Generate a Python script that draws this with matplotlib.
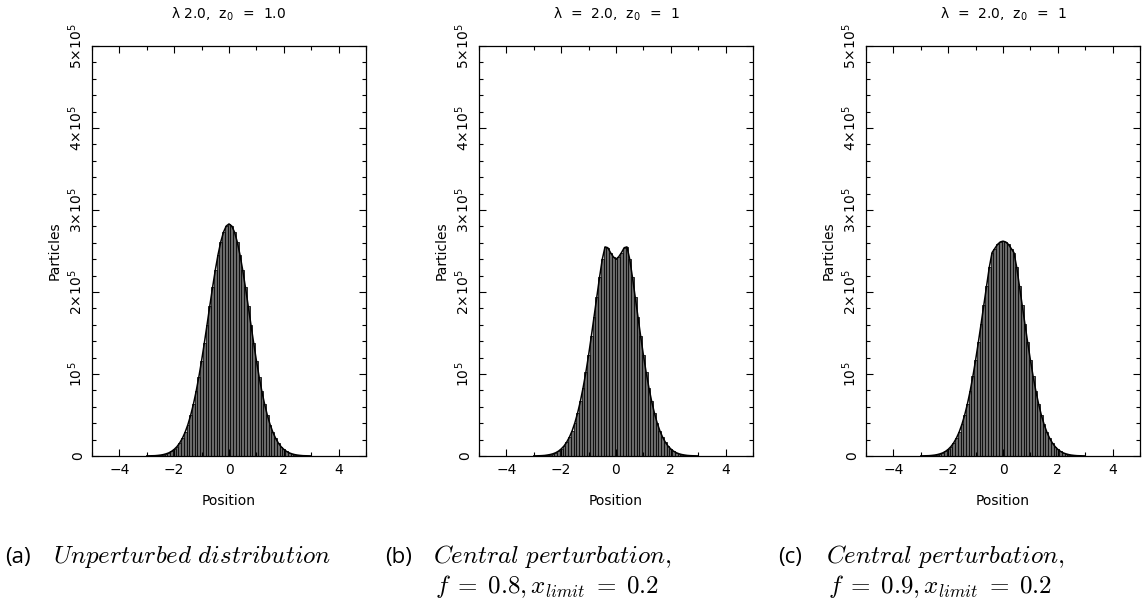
import matplotlib
matplotlib.use("Agg")
import matplotlib.pyplot as plt
from matplotlib.ticker import MultipleLocator, FixedLocator
import numpy as np

plt.rcParams["mathtext.fontset"] = "cm"
plt.rcParams["font.family"] = "DejaVu Sans"

# histogram bins (width 0.1), counts in units of 1e5 particles
bin_centers = np.linspace(-3.0, 3.0, 61)

counts_a = [0.001, 0.002, 0.003, 0.004, 0.007, 0.011, 0.017, 0.026, 0.038, 0.056,
            0.081, 0.114, 0.159, 0.217, 0.291, 0.383, 0.496, 0.630, 0.787, 0.965,
            1.163, 1.378, 1.602, 1.831, 2.055, 2.266, 2.455, 2.612, 2.731, 2.805,
            2.830,
            2.805, 2.731, 2.612, 2.455, 2.266, 2.055, 1.831, 1.602, 1.378, 1.163,
            0.965, 0.787, 0.630, 0.496, 0.383, 0.291, 0.217, 0.159, 0.114, 0.081,
            0.056, 0.038, 0.026, 0.017, 0.011, 0.007, 0.004, 0.003, 0.002, 0.001]

counts_b = [0.001, 0.002, 0.003, 0.0045, 0.007, 0.012, 0.018, 0.027, 0.040, 0.059,
            0.086, 0.121, 0.169, 0.230, 0.308, 0.406, 0.526, 0.668, 0.834, 1.02,
            1.23, 1.46, 1.70, 1.94, 2.18, 2.40, 2.55, 2.54, 2.48, 2.43,
            2.40,
            2.43, 2.48, 2.54, 2.55, 2.40, 2.18, 1.94, 1.70, 1.46, 1.23,
            1.02, 0.834, 0.668, 0.526, 0.406, 0.308, 0.230, 0.169, 0.121, 0.086,
            0.059, 0.040, 0.027, 0.018, 0.012, 0.007, 0.0045, 0.003, 0.002, 0.001]

counts_c = [0.001, 0.002, 0.003, 0.004, 0.007, 0.011, 0.017, 0.026, 0.038, 0.056,
            0.081, 0.115, 0.160, 0.218, 0.292, 0.385, 0.498, 0.633, 0.79, 0.97,
            1.17, 1.385, 1.61, 1.84, 2.07, 2.30, 2.48, 2.53, 2.58, 2.61,
            2.62,
            2.61, 2.58, 2.53, 2.48, 2.30, 2.07, 1.84, 1.61, 1.385, 1.17,
            0.97, 0.79, 0.633, 0.498, 0.385, 0.292, 0.218, 0.160, 0.115, 0.081,
            0.056, 0.038, 0.026, 0.017, 0.011, 0.007, 0.004, 0.003, 0.002, 0.001]

titles = [r"$\mathregular{\lambda}$ 2.0,  z$_{\mathregular{0}}$  =  1.0",
          r"$\mathregular{\lambda}$  =  2.0,  z$_{\mathregular{0}}$  =  1",
          r"$\mathregular{\lambda}$  =  2.0,  z$_{\mathregular{0}}$  =  1"]
ytick_vals = [0, 1e5, 2e5, 3e5, 4e5, 5e5]
ytick_labels = ["0", r"10$^{\mathregular{5}}$", r"2×10$^{\mathregular{5}}$",
                r"3×10$^{\mathregular{5}}$", r"4×10$^{\mathregular{5}}$",
                r"5×10$^{\mathregular{5}}$"]
xtick_vals = [-4, -2, 0, 2, 4]
xtick_labels = ["\u22124", "\u22122", "0", "2", "4"]

cap_tags = ["(a)", "(b)", "(c)"]
cap_line1 = [r"$\mathit{Unperturbed\ distribution}$",
             r"$\mathit{Central\ perturbation,}$",
             r"$\mathit{Central\ perturbation,}$"]
cap_line2 = ["", r"$f\;=\;\mathit{0.8}, x_{limit}\;=\;\mathit{0.2}$",
             r"$f\;=\;\mathit{0.9}, x_{limit}\;=\;\mathit{0.2}$"]

W, H = 1142, 604
fig = plt.figure(figsize=(W / 100, H / 100), dpi=100)
fig.patch.set_facecolor("white")

lefts = [92, 479, 866]
ax_w, ax_top, ax_bot = 274, 46, 456
tag_x = [5, 385, 778]

for i, counts in enumerate([counts_a, counts_b, counts_c]):
    ax = fig.add_axes([lefts[i] / W, (H - ax_bot) / H, ax_w / W, (ax_bot - ax_top) / H])
    vals = np.array(counts) * 1e5
    ax.bar(bin_centers, vals, width=0.1, color="#6a6a6a", edgecolor="black", linewidth=0.55)
    ax.plot(bin_centers, vals, color="black", linewidth=1.1)
    ax.set_xlim(-5, 5)
    ax.set_ylim(0, 5e5)
    ax.xaxis.set_major_locator(FixedLocator(xtick_vals))
    ax.set_xticklabels(xtick_labels)
    ax.xaxis.set_minor_locator(MultipleLocator(1))
    ax.yaxis.set_major_locator(FixedLocator(ytick_vals))
    ax.set_yticklabels(ytick_labels, rotation=90, va="center")
    ax.yaxis.set_minor_locator(MultipleLocator(2e4))
    ax.tick_params(which="both", direction="in", top=True, right=True, width=0.8, labelsize=10)
    ax.tick_params(which="major", length=5)
    ax.tick_params(which="minor", length=2.7)
    ax.tick_params(axis="y", pad=5)
    ax.tick_params(axis="x", pad=5)
    for s in ax.spines.values():
        s.set_linewidth(0.9)
    ax.set_xlabel("Position", fontsize=10, labelpad=12)
    ax.text(-37 / ax_w, 0.5, "Particles", rotation=90, ha="center", va="center",
            fontsize=10, transform=ax.transAxes)
    ax.text(0.5, 1 + 32 / 410, titles[i], ha="center", va="center", fontsize=10,
            transform=ax.transAxes)

    fig.text(tag_x[i] / W, (H - 563) / H, cap_tags[i], fontsize=16, family="Open Sans",
             va="baseline", ha="left")
    fig.text((tag_x[i] + 48) / W, (H - 563) / H, cap_line1[i], fontsize=18,
             va="baseline", ha="left")
    if cap_line2[i]:
        fig.text((tag_x[i] + 50) / W, (H - 593) / H, cap_line2[i], fontsize=18,
                 va="baseline", ha="left")

plt.savefig("out.png", dpi=100, facecolor="white")
